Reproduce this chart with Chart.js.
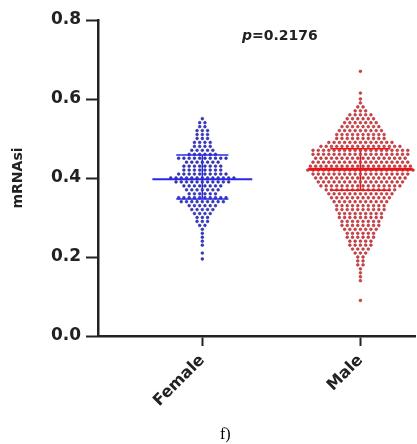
<!DOCTYPE html>
<html>
<head>
<meta charset="utf-8">
<script src="https://cdn.jsdelivr.net/npm/chart.js@4.4.1/dist/chart.umd.min.js"></script>
<style>
html,body{margin:0;padding:0;background:#fff;}
#wrap{position:relative;width:417px;height:444px;overflow:hidden;}
#c{position:absolute;left:0;top:0;}
#p{position:absolute;left:242px;top:27px;font:bold 14px "DejaVu Sans",sans-serif;color:#222;white-space:nowrap;}
#f{position:absolute;left:220px;top:425px;font:16px "Liberation Serif",serif;color:#000;}
</style>
</head>
<body>
<div id="wrap">
<canvas id="c" width="417" height="444"></canvas>
<div id="p"><i>p</i>=0.2176</div>
<div id="f">f)</div>
</div>
<script>
const categories = ['Female', 'Male'];
const yTicks = [0.0, 0.2, 0.4, 0.6, 0.8];

const female = [
0.55,
0.54,0.54,
0.53,0.53,
0.52,0.52,0.52,
0.51,0.51,0.51,
0.50,0.50,0.50,
0.49,0.49,0.49,0.49,
0.48,0.48,0.48,0.48,
0.47,0.47,0.47,0.47,0.47,
0.46,0.46,0.46,0.46,0.46,0.46,
0.45,0.45,0.45,0.45,0.45,0.45,0.45,0.45,0.45,0.45,
0.44,0.44,0.44,0.44,0.44,0.44,0.44,
0.43,0.43,0.43,0.43,0.43,0.43,0.43,0.43,
0.42,0.42,0.42,0.42,0.42,0.42,0.42,0.42,
0.41,0.41,0.41,0.41,0.41,0.41,0.41,0.41,0.41,0.41,
0.40,0.40,0.40,0.40,0.40,0.40,0.40,0.40,0.40,0.40,0.40,0.40,0.40,
0.39,0.39,0.39,0.39,0.39,0.39,0.39,0.39,0.39,0.39,0.39,
0.38,0.38,0.38,0.38,0.38,0.38,0.38,0.38,
0.37,0.37,0.37,0.37,0.37,0.37,0.37,
0.36,0.36,0.36,0.36,0.36,0.36,
0.35,0.35,0.35,0.35,0.35,0.35,0.35,0.35,0.35,0.35,
0.34,0.34,0.34,0.34,0.34,0.34,0.34,0.34,0.34,
0.33,0.33,0.33,0.33,0.33,0.33,
0.32,0.32,0.32,0.32,0.32,
0.31,0.31,0.31,0.31,
0.30,0.30,0.30,
0.29,0.29,0.29,
0.28,0.28,
0.27,0.26,0.25,0.24,0.23,0.21,0.195
];

const male = [
0.67,
0.615,
0.60,
0.59,
0.58,0.58,
0.57,0.57,0.57,
0.56,0.56,0.56,0.56,0.56,
0.55,0.55,0.55,0.55,0.55,0.55,
0.54,0.54,0.54,0.54,0.54,0.54,0.54,
0.53,0.53,0.53,0.53,0.53,0.53,0.53,0.53,
0.52,0.52,0.52,0.52,0.52,0.52,0.52,0.52,0.52,
0.51,0.51,0.51,0.51,0.51,0.51,0.51,0.51,0.51,0.51,
0.50,0.50,0.50,0.50,0.50,0.50,0.50,0.50,0.50,0.50,
0.49,0.49,0.49,0.49,0.49,0.49,0.49,0.49,0.49,0.49,0.49,0.49,0.49,
0.48,0.48,0.48,0.48,0.48,0.48,0.48,0.48,0.48,0.48,0.48,0.48,0.48,0.48,0.48,0.48,
0.47,0.47,0.47,0.47,0.47,0.47,0.47,0.47,0.47,0.47,0.47,0.47,0.47,0.47,0.47,0.47,0.47,0.47,0.47,
0.46,0.46,0.46,0.46,0.46,0.46,0.46,0.46,0.46,0.46,0.46,0.46,0.46,0.46,0.46,0.46,0.46,0.46,0.46,
0.45,0.45,0.45,0.45,0.45,0.45,0.45,0.45,0.45,0.45,0.45,0.45,0.45,0.45,0.45,0.45,0.45,0.45,
0.44,0.44,0.44,0.44,0.44,0.44,0.44,0.44,0.44,0.44,0.44,0.44,0.44,0.44,0.44,0.44,0.44,0.44,0.44,
0.43,0.43,0.43,0.43,0.43,0.43,0.43,0.43,0.43,0.43,0.43,0.43,0.43,0.43,0.43,0.43,0.43,0.43,0.43,0.43,
0.42,0.42,0.42,0.42,0.42,0.42,0.42,0.42,0.42,0.42,0.42,0.42,0.42,0.42,0.42,0.42,0.42,0.42,0.42,0.42,0.42,
0.41,0.41,0.41,0.41,0.41,0.41,0.41,0.41,0.41,0.41,0.41,0.41,0.41,0.41,0.41,0.41,0.41,0.41,0.41,
0.40,0.40,0.40,0.40,0.40,0.40,0.40,0.40,0.40,0.40,0.40,0.40,0.40,0.40,0.40,0.40,0.40,0.40,
0.39,0.39,0.39,0.39,0.39,0.39,0.39,0.39,0.39,0.39,0.39,0.39,0.39,0.39,0.39,0.39,0.39,
0.38,0.38,0.38,0.38,0.38,0.38,0.38,0.38,0.38,0.38,0.38,0.38,0.38,0.38,0.38,0.38,
0.37,0.37,0.37,0.37,0.37,0.37,0.37,0.37,0.37,0.37,0.37,0.37,0.37,0.37,
0.36,0.36,0.36,0.36,0.36,0.36,0.36,0.36,0.36,0.36,0.36,0.36,0.36,
0.35,0.35,0.35,0.35,0.35,0.35,0.35,0.35,0.35,0.35,0.35,0.35,
0.34,0.34,0.34,0.34,0.34,0.34,0.34,0.34,0.34,0.34,0.34,
0.33,0.33,0.33,0.33,0.33,0.33,0.33,0.33,0.33,0.33,
0.32,0.32,0.32,0.32,0.32,0.32,0.32,0.32,0.32,0.32,
0.31,0.31,0.31,0.31,0.31,0.31,0.31,0.31,0.31,
0.30,0.30,0.30,0.30,0.30,0.30,0.30,0.30,0.30,
0.29,0.29,0.29,0.29,0.29,0.29,0.29,0.29,
0.28,0.28,0.28,0.28,0.28,0.28,0.28,0.28,
0.27,0.27,0.27,0.27,0.27,0.27,0.27,
0.26,0.26,0.26,0.26,0.26,0.26,
0.25,0.25,0.25,0.25,0.25,0.25,
0.24,0.24,0.24,0.24,0.24,
0.23,0.23,0.23,0.23,0.23,
0.22,0.22,0.22,0.22,
0.21,0.21,0.21,
0.20,0.20,
0.19,0.19,
0.18,0.18,
0.17,0.16,0.15,0.14,0.09
];

// mean and SD
const means  = [0.397, 0.422];
const sdLow  = [0.347, 0.369];
const sdHigh = [0.458, 0.474];

// style constants
const dotColor    = ['rgb(55,55,210)', 'rgb(228,60,60)'];
const dotBorder   = ['rgb(35,35,140)', 'rgb(140,45,60)'];
const lineColor   = ['rgb(40,40,230)', 'rgb(235,20,20)'];
const lineWidth   = [2, 3];
const meanHalf    = [0.316, 0.33];
const capHalf     = [0.165, 0.19];
const dotStep     = 0.0333;

// beeswarm-style row layout (like GraphPad): values sharing a row are spread sideways
function swarm(values, center) {
  const rows = new Map();
  values.forEach(v => {
    const k = Math.round(v * 100);
    if (!rows.has(k)) rows.set(k, []);
    rows.get(k).push(v);
  });
  const pts = [];
  rows.forEach(list => {
    const n = list.length;
    list.forEach((v, i) => pts.push({ x: center + (i - (n - 1) / 2) * dotStep, y: v }));
  });
  return pts;
}

const groups = [female, male];
const datasets = [];
groups.forEach((vals, g) => {
  const c = g + 1;
  datasets.push({
    type: 'line', order: 0, data: [{x: c - meanHalf[g], y: means[g]}, {x: c + meanHalf[g], y: means[g]}],
    borderColor: lineColor[g], borderWidth: lineWidth[g], pointRadius: 0, showLine: true, fill: false
  });
  datasets.push({
    type: 'line', order: 0, data: [{x: c - capHalf[g], y: sdHigh[g]}, {x: c + capHalf[g], y: sdHigh[g]}],
    borderColor: lineColor[g], borderWidth: 1.5, pointRadius: 0, showLine: true, fill: false
  });
  datasets.push({
    type: 'line', order: 0, data: [{x: c - capHalf[g], y: sdLow[g]}, {x: c + capHalf[g], y: sdLow[g]}],
    borderColor: lineColor[g], borderWidth: 1.5, pointRadius: 0, showLine: true, fill: false
  });
  datasets.push({
    type: 'line', order: 2, data: [{x: c, y: sdLow[g]}, {x: c, y: sdHigh[g]}],
    borderColor: lineColor[g], borderWidth: 1.5, pointRadius: 0, showLine: true, fill: false
  });
  datasets.push({
    type: 'scatter', order: 1, data: swarm(vals, c),
    backgroundColor: dotColor[g], borderColor: dotBorder[g], borderWidth: 0.5,
    pointRadius: 1.4, pointHoverRadius: 1.4
  });
});

const axisColor = '#222';
new Chart(document.getElementById('c'), {
  type: 'scatter',
  data: { datasets },
  options: {
    responsive: false,
    animation: false,
    layout: { padding: { top: 20, right: 0, bottom: 0, left: 0 } },
    plugins: { legend: { display: false }, tooltip: { enabled: false } },
    scales: {
      x: {
        type: 'linear', min: 0.34, max: 2.346,
        afterBuildTicks: ax => { ax.ticks = categories.map((_, i) => ({ value: i + 1 })); },
        afterFit: ax => { ax.height = 108; },
        ticks: {
          autoSkip: false, minRotation: 45, maxRotation: 45, padding: 5,
          color: axisColor, font: { family: 'DejaVu Sans', weight: 'bold', size: 16 },
          callback: v => categories[Math.round(v) - 1]
        },
        grid: { drawOnChartArea: false, drawTicks: true, tickLength: 10, tickWidth: 2, tickColor: axisColor },
        border: { display: true, color: axisColor, width: 2.5 }
      },
      y: {
        min: 0, max: 0.8,
        afterBuildTicks: ax => { ax.ticks = yTicks.map(v => ({ value: v })); },
        afterFit: ax => { ax.width = 98; },
        ticks: {
          padding: 5, color: axisColor,
          font: { family: 'DejaVu Sans', weight: 'bold', size: 17 },
          callback: v => Number(v).toFixed(1)
        },
        grid: { drawOnChartArea: false, drawTicks: true, tickLength: 12, tickWidth: 2, tickColor: axisColor },
        border: { display: true, color: axisColor, width: 2.5 },
        title: {
          display: true, text: 'mRNAsi', color: axisColor,
          font: { family: 'DejaVu Sans', weight: 'bold', size: 14 },
          padding: { top: 10, bottom: 0 }
        }
      }
    }
  }
});
</script>
</body>
</html>
